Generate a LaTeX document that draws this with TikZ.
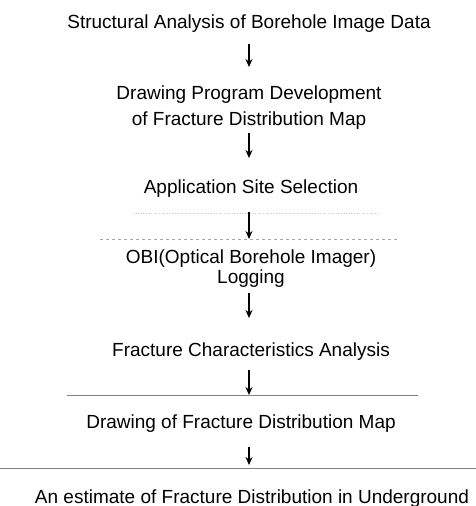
\documentclass[tikz,border=0pt]{standalone}
\usepackage{fontspec}
\setmainfont{Liberation Sans}
\usetikzlibrary{arrows.meta}

\begin{document}
\begin{tikzpicture}[x=1pt,y=-1pt,
  stage/.style={inner sep=0pt,align=center,font=\fontsize{19}{20}\selectfont},
  flow/.style={-{Stealth[length=8pt,width=7pt]},line width=1.3pt},
  rule/.style={gray,line width=0.7pt}]

\useasboundingbox (0,0) rectangle (476,506);

% steps of the procedure
\node[stage,anchor=base] (analysis) at (249,28) {Structural Analysis of Borehole Image Data};
\node[stage,anchor=north,font=\fontsize{19}{26}\selectfont] (program) at (249,86)
  {Drawing Program Development\\of Fracture Distribution Map};
\node[stage,anchor=base] (site) at (251,193) {Application Site Selection};
\node[stage,anchor=north] (obi) at (251,250) {OBI(Optical Borehole Imager)\\Logging};
\node[stage,anchor=base] (charact) at (251,356) {Fracture Characteristics Analysis};
\node[stage,anchor=base] (mapping) at (241,428) {Drawing of Fracture Distribution Map};
\node[stage,anchor=base] (estimate) at (252,503) {An estimate of Fracture Distribution in Underground};

% arrows
\draw[flow,shorten <=12pt,shorten >=19pt] (analysis.south) -- (analysis.south |- program.north);
\draw[flow,shorten <=3pt,shorten >=21pt] (program.south) -- (program.south |- site.north);
\draw[flow,shorten <=15pt,shorten >=11pt] (site.south -| program.south) -- (program.south |- obi.north);
\draw[flow,shorten <=5pt,shorten >=24pt] (obi.south -| program.south) -- (program.south |- charact.north);
\draw[flow,shorten <=10pt,shorten >=19pt] (charact.south -| program.south) -- (program.south |- mapping.north);
\draw[flow,shorten <=15pt,shorten >=24pt] (mapping.south -| program.south) -- (program.south |- estimate.north);

% what is left of the box edges in the scan
\draw[gray!40,line width=0.6pt,dotted] (133,213) -- (380,213);
\draw[gray!70,line width=0.6pt,dashed] (100,239) -- (397,239);
\draw[rule] (67,395) -- (418,395);
\draw[rule] (0,468) -- (476,468);

\end{tikzpicture}
\end{document}
